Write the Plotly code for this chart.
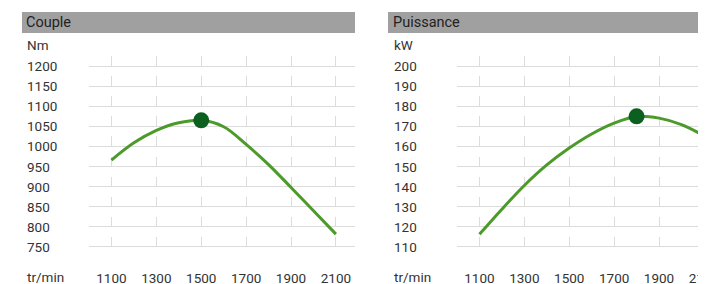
import plotly.graph_objects as go

# ---- data ----
rpm = [1100, 1200, 1300, 1400, 1500, 1600, 1700, 1800, 1900, 2000, 2100]
torque_nm = [966, 1009, 1040, 1059, 1065, 1049, 1005, 955, 898, 840, 782]
power_kw = [116.3, 128.8, 140.6, 150.8, 159.2, 166.2, 171.6, 174.9, 174.1, 170.9, 165.4]

torque_peak_rpm = [1500]
torque_peak_val = [1065]
power_peak_rpm = [1800]
power_peak_val = [175]

x_ticks = [1100, 1300, 1500, 1700, 1900, 2100]
torque_ticks = [750, 800, 850, 900, 950, 1000, 1050, 1100, 1150, 1200]
power_ticks = [110, 120, 130, 140, 150, 160, 170, 180, 190, 200]

titles = ["Couple", "Puissance"]
units = ["Nm", "kW"]
x_unit = "tr/min"

# ---- style ----
OFF = 8  # page body margin
W, H = 706 - OFF, 284 - OFF
FONT = "Roboto"
TXT = "#333333"
GRID = "#dcdcdc"
LINE = "#4b9a2a"
DOT = "#0b5f1f"
BAR = "#a0a0a0"

def px(x):
    return (x - OFF) / W

def py(y):
    return 1 - (y - OFF) / H

fig = go.Figure()

fig.add_trace(go.Scatter(x=rpm, y=torque_nm, mode="lines",
                         line=dict(color=LINE, width=3, shape="spline", smoothing=1.0),
                         xaxis="x", yaxis="y", hoverinfo="skip"))
fig.add_trace(go.Scatter(x=torque_peak_rpm, y=torque_peak_val, mode="markers",
                         marker=dict(color=DOT, size=16), xaxis="x", yaxis="y"))
fig.add_trace(go.Scatter(x=rpm, y=power_kw, mode="lines",
                         line=dict(color=LINE, width=3, shape="spline", smoothing=1.0),
                         xaxis="x2", yaxis="y2", hoverinfo="skip"))
fig.add_trace(go.Scatter(x=power_peak_rpm, y=power_peak_val, mode="markers",
                         marker=dict(color=DOT, size=16), xaxis="x2", yaxis="y2"))

ydom = [py(249), py(56)]
xdash = "9.5px,10.604px"

common_x = dict(showgrid=True, gridcolor=GRID, gridwidth=1, griddash=xdash, zeroline=False,
                showline=False, ticks="", tickvals=x_ticks, ticklabelstandoff=19,
                ticklabeloverflow="allow", automargin=False,
                tickfont=dict(family=FONT, size=13.5, color=TXT), fixedrange=True)
common_y = dict(showgrid=True, gridcolor=GRID, gridwidth=1, zeroline=False, showline=False,
                showticklabels=False, ticks="", fixedrange=True, automargin=False)

fig.update_layout(
    width=W, height=H,
    margin=dict(l=0, r=0, t=0, b=0, autoexpand=False),
    paper_bgcolor="white", plot_bgcolor="white",
    showlegend=False,
    font=dict(family=FONT, color=TXT, size=13.5),
    xaxis=dict(domain=[px(89), px(355)], range=[1000, 2185], anchor="y", **common_x),
    yaxis=dict(domain=ydom, range=[745, 1225], anchor="x", tickvals=torque_ticks, **common_y),
    xaxis2=dict(domain=[px(457), 1.0], range=[1000, 2109.3], anchor="y2", **common_x),
    yaxis2=dict(domain=ydom, range=[109, 205], anchor="x2", tickvals=power_ticks, **common_y),
)

shapes = []
annotations = []
panels = [
    (22, 355, 25, "y", torque_ticks, titles[0], units[0]),
    (388, 706, 392, "y2", power_ticks, titles[1], units[1]),
]
for x0, x1, xl, yref, ticks, title, unit in panels:
    shapes.append(dict(type="rect", xref="paper", yref="paper", x0=px(x0), x1=px(x1),
                       y0=py(33), y1=py(12), fillcolor=BAR, line=dict(width=0), layer="below"))
    annotations.append(dict(text=title, xref="paper", yref="paper", x=px(xl - 1), y=py(22.5),
                            xanchor="left", yanchor="middle", showarrow=False,
                            font=dict(family=FONT, size=14.5, color="#222222")))
    annotations.append(dict(text=unit, xref="paper", yref="paper", x=px(xl), y=py(45),
                            xanchor="left", yanchor="middle", showarrow=False,
                            font=dict(family=FONT, size=13.5, color=TXT)))
    annotations.append(dict(text=x_unit, xref="paper", yref="paper", x=px(xl), y=py(277),
                            xanchor="left", yanchor="middle", showarrow=False,
                            font=dict(family=FONT, size=13.5, color=TXT)))
    for t in ticks:
        annotations.append(dict(text=str(t), xref="paper", yref=yref, x=px(xl), y=t,
                                xanchor="left", yanchor="middle", showarrow=False,
                                font=dict(family=FONT, size=13.5, color=TXT)))

fig.update_layout(shapes=shapes, annotations=annotations)

clip_js = (
    "var gd=document.getElementById('{plot_id}');"
    "gd.style.overflow='hidden';"
    "document.documentElement.style.overflow='hidden';"
    "document.body.style.overflow='hidden';"
)

fig.write_html("out.html", config={"displayModeBar": False}, post_script=clip_js)
